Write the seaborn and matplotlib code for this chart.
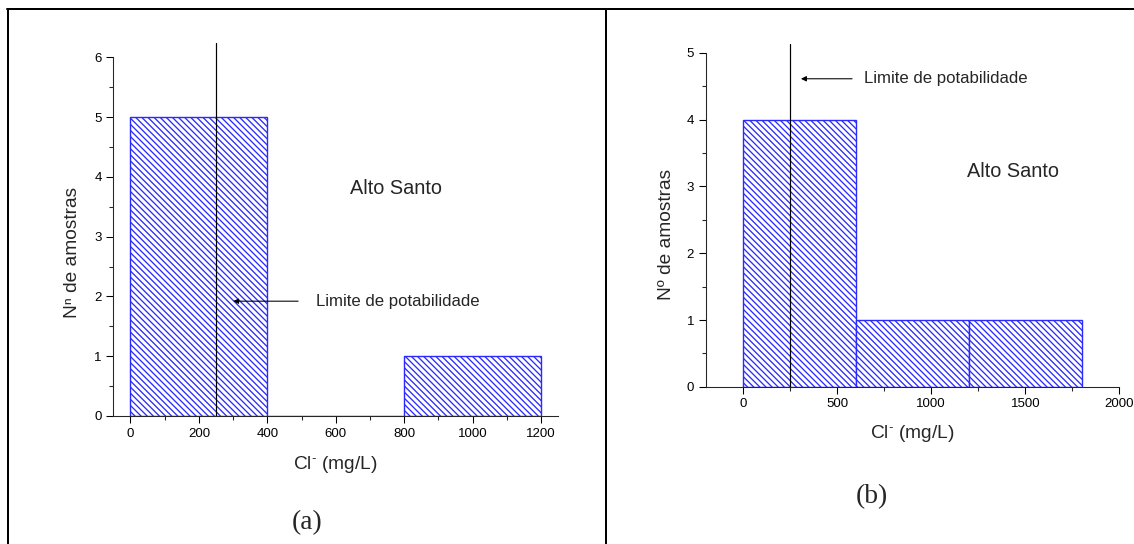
import numpy as np
import pandas as pd
import seaborn as sns
import matplotlib
matplotlib.use("Agg")
import matplotlib.pyplot as plt
from matplotlib.ticker import MultipleLocator
from matplotlib.lines import Line2D

# ---- data ----
a_edges = [0, 400, 800, 1200]
a_counts = [5, 0, 1]
b_edges = [0, 600, 1200, 1800]
b_counts = [4, 1, 1]
limit_value = 250
site_name = "Alto Santo"
limit_text = "Limite de potabilidade"
xlabel_text = r"Cl$^{\text{-}}$ (mg/L)"
ylabel_a = "N\u207f de amostras"
ylabel_b = "N\u00ba de amostras"
panel_a = "(a)"
panel_b = "(b)"

DPI = 110
W, H = 1134, 544
BLUE = "#2a2aff"

sns.set_style("ticks")
plt.rcParams["font.family"] = ["Liberation Sans", "DejaVu Sans"]
plt.rcParams["mathtext.fontset"] = "custom"
plt.rcParams["mathtext.rm"] = "Liberation Sans"
plt.rcParams["mathtext.it"] = "Liberation Sans"
plt.rcParams["hatch.color"] = BLUE
plt.rcParams["hatch.linewidth"] = 0.85
plt.rcParams["axes.linewidth"] = 0.7
plt.rcParams["xtick.major.width"] = 0.7
plt.rcParams["ytick.major.width"] = 0.7
plt.rcParams["xtick.minor.width"] = 0.7
plt.rcParams["ytick.minor.width"] = 0.7

px = 72.0 / DPI  # points per pixel

fig = plt.figure(figsize=(W / DPI, H / DPI), dpi=DPI)

ax_a = fig.add_axes([113.3 / W, 1 - 416 / H, 445 / W, (416 - 57.2) / H])
ax_b = fig.add_axes([705.6 / W, 1 - 386.9 / H, 413.7 / W, (386.9 - 52.7) / H])


def draw(ax, edges, counts, xlim, ylim, xmajor, xminor, line_top,
         alto_xy, lim_text_xy, arrow_from, arrow_to, ylabel, ylab_xy, xlab_y):
    centers = [(edges[i] + edges[i + 1]) / 2 for i in range(len(counts))]
    df = pd.DataFrame({"x": centers, "w": counts})
    sns.histplot(data=df, x="x", weights="w", bins=edges, ax=ax,
                 stat="count", element="bars", fill=True,
                 facecolor="white", edgecolor=BLUE, linewidth=1.0 * px * 1.4,
                 hatch="\\\\\\\\\\\\")
    ax.set_xlim(*xlim)
    ax.set_ylim(*ylim)
    ax.xaxis.set_major_locator(MultipleLocator(xmajor))
    ax.xaxis.set_minor_locator(MultipleLocator(xminor))
    ax.yaxis.set_major_locator(MultipleLocator(1))
    ax.yaxis.set_minor_locator(MultipleLocator(0.5))
    ax.tick_params(which="major", direction="out", length=5 * px * 1.4,
                   labelsize=8.7, pad=3, colors="black")
    ax.tick_params(which="minor", direction="out", length=3 * px * 1.4)
    for s in ["top", "right"]:
        ax.spines[s].set_visible(False)
    ax.plot([limit_value, limit_value], [0, line_top], color="black",
            lw=1.0 * px * 1.2, clip_on=False)
    ax.annotate("", xy=arrow_to, xytext=arrow_from,
                arrowprops=dict(arrowstyle="-|>", color="black",
                                lw=0.7, mutation_scale=7, shrinkA=0, shrinkB=0))
    ax.text(lim_text_xy[0], lim_text_xy[1], limit_text, fontsize=11,
            ha="left", va="center")
    ax.text(alto_xy[0], alto_xy[1], site_name, fontsize=13,
            ha="center", va="center")
    ax.set_xlabel(xlabel_text, fontsize=12.5, va="center")
    ax.set_ylabel(ylabel, fontsize=12.5, va="center")
    ax.xaxis.set_label_coords(0.5, xlab_y)
    ax.yaxis.set_label_coords(*ylab_xy)
    ax.grid(False)


draw(ax_a, a_edges, a_counts, (-50, 1250), (0, 6), 200, 100, 6.24,
     (775, 3.80), (542, 1.92), (490, 1.92), (300, 1.92),
     ylabel_a, (-0.0928, 0.457), -0.136)
draw(ax_b, b_edges, b_counts, (-200, 2000), (0, 5), 500, 250, 5.13,
     (1434, 3.22), (641, 4.61), (579, 4.61), (307, 4.61),
     ylabel_b, (-0.0948, 0.457), -0.138)

fig.text(307 / W, 1 - 523 / H, panel_a, fontsize=18, family="Liberation Serif",
         ha="center", va="center")
fig.text(872 / W, 1 - 497 / H, panel_b, fontsize=18, family="Liberation Serif",
         ha="center", va="center")

# table-like frame lines
bl = 2 * px
fig.add_artist(Line2D([7 / W, 1], [1 - 8.5 / H, 1 - 8.5 / H], color="black", lw=bl))
fig.add_artist(Line2D([8 / W, 8 / W], [0, 1 - 8.5 / H], color="black", lw=bl))
fig.add_artist(Line2D([606 / W, 606 / W], [0, 1 - 8.5 / H], color="black", lw=bl))

fig.savefig("out.png", dpi=DPI)
